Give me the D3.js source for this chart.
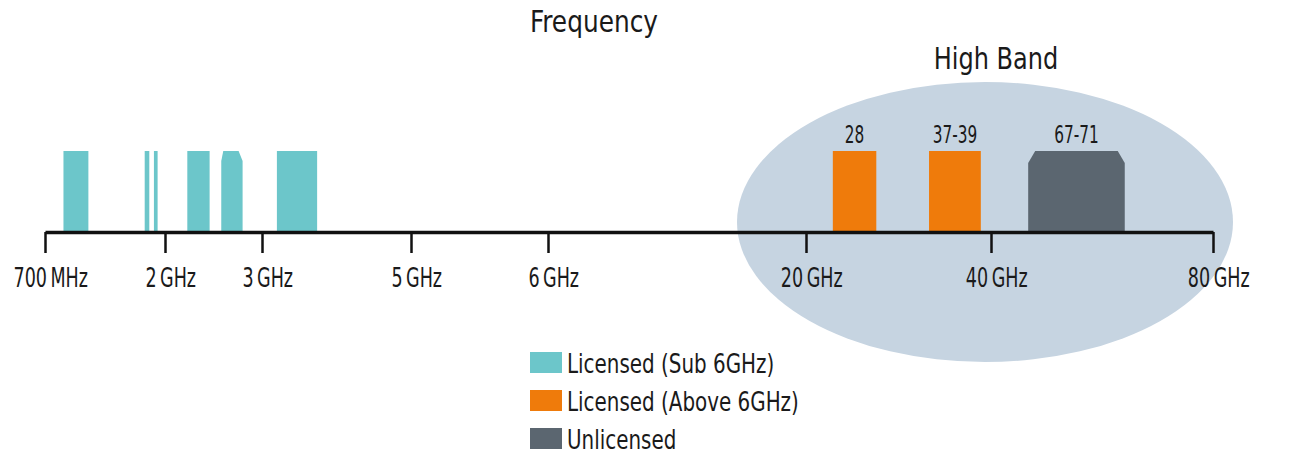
<!DOCTYPE html>
<html>
<head>
<meta charset="utf-8">
<script src="https://cdn.jsdelivr.net/npm/d3@7"></script>
<style>
  body { margin: 0; background: #fff; }
  text { font-family: "Liberation Sans Narrow", "DejaVu Sans Condensed", "Roboto Condensed", Roboto, sans-serif; fill: #1a1a1a; }
</style>
</head>
<body>
<div id="chart"></div>
<script>
// axis ticks (GHz) and their labels
let tickValues = [0.7, 2, 3, 5, 6, 20, 40, 80];
let tickLabels = ["700\u2009MHz", "2\u2009GHz", "3\u2009GHz", "5\u2009GHz", "6\u2009GHz", "20\u2009GHz", "40\u2009GHz", "80\u2009GHz"];

// spectrum blocks (GHz)
let bandStart = [0.9, 1.78, 1.88, 2.23, 2.58, 3.2, 22.9, 33.3, 46.7];
let bandEnd   = [1.17, 1.83, 1.92, 2.46, 2.8, 3.74, 27.6, 38.9, 64.1];
let bandType  = ["sub6", "sub6", "sub6", "sub6", "sub6", "sub6", "above6", "above6", "unlicensed"];
let bandLabel = ["", "", "", "", "", "", "28", "37-39", "67-71"];

let legendKeys   = ["sub6", "above6", "unlicensed"];
let legendLabels = ["Licensed (Sub 6GHz)", "Licensed (Above 6GHz)", "Unlicensed"];

let colors = { sub6: "#6cc6ca", above6: "#ef7b0b", unlicensed: "#5b6670" };

let width = 1295, height = 455;
let axisY = 232, barTop = 151;

let svg = d3.select('#chart')
  .append('svg')
    .attr('width', width)
    .attr('height', height)
;

// piecewise scale: the axis is not linear
let x = d3.scaleLinear()
  .domain(tickValues)
  .range([45, 165, 262, 411, 548, 806, 991, 1213])
;

// squeeze text horizontally, the original uses a condensed face
function squeeze(px, py, sx) {
  return "translate(" + px + "," + py + ") scale(" + sx + ",1)";
}

// high band ellipse
svg.append('ellipse')
    .attr('cx', 985)
    .attr('cy', 222)
    .attr('rx', 248)
    .attr('ry', 140)
    .attr('fill', '#c6d4e1')
;

svg.append('text')
    .attr('transform', squeeze(594, 32, 0.92))
    .attr('text-anchor', 'middle')
    .attr('font-size', 30)
    .text('Frequency')
;

svg.append('text')
    .attr('transform', squeeze(996, 69, 0.89))
    .attr('text-anchor', 'middle')
    .attr('font-size', 30)
    .text('High Band')
;

// chamfered corners for a couple of blocks
function bandPath(d, i) {
  let x0 = x(bandStart[i]), x1 = x(bandEnd[i]);
  let cl = 0, cr = 0, ch = 12;
  if (i == 4) { cl = 2; cr = 4; ch = 10; }
  if (i == 8) { cl = 7; cr = 7; }
  return "M" + x0 + "," + axisY +
    "L" + x0 + "," + (barTop + (cl ? ch : 0)) +
    "L" + (x0 + cl) + "," + barTop +
    "L" + (x1 - cr) + "," + barTop +
    "L" + x1 + "," + (barTop + (cr ? ch : 0)) +
    "L" + x1 + "," + axisY + "Z";
}

svg.selectAll('.band').data(bandType)
  .enter()
    .append('path')
    .attr('class', 'band')
    .attr('d', bandPath)
    .attr('fill', function(d) { return colors[d]; })
;

svg.selectAll('.bandlabel').data(bandLabel)
  .enter()
    .append('text')
    .attr('class', 'bandlabel')
    .attr('transform', function(d, i) {
      return squeeze((x(bandStart[i]) + x(bandEnd[i])) / 2, 142.5, 0.71);
    })
    .attr('text-anchor', 'middle')
    .attr('font-size', 24)
    .text(function(d) { return d; })
;

// axis
let axis = d3.axisBottom(x)
  .tickValues(tickValues)
  .tickSize(21)
  .tickSizeOuter(0)
  .tickPadding(15.5)
  .tickFormat(function(d, i) { return tickLabels[i]; })
;

let gAxis = svg.append('g')
    .attr('transform', 'translate(0,' + axisY + ')')
    .call(axis)
;
gAxis.select('.domain').attr('stroke', '#111').attr('stroke-width', 3.5);
gAxis.selectAll('.tick line').attr('stroke', '#111').attr('stroke-width', 2.5);
gAxis.selectAll('.tick text')
    .attr('font-size', 26)
    .attr('font-family', null)
    .attr('fill', '#1a1a1a')
    .attr('dx', 7)
    .attr('transform', 'scale(0.75,1)')
;

// legend
let legend = svg.selectAll('.legend').data(legendKeys)
  .enter()
    .append('g')
    .attr('class', 'legend')
    .attr('transform', function(d, i) { return "translate(530," + (352 + i * 38) + ")"; })
;
legend.append('rect')
    .attr('width', 32)
    .attr('height', 21)
    .attr('fill', function(d) { return colors[d]; })
;
legend.append('text')
    .attr('transform', squeeze(37, 21, 0.82))
    .attr('font-size', 27)
    .text(function(d, i) { return legendLabels[i]; })
;
</script>
</body>
</html>
